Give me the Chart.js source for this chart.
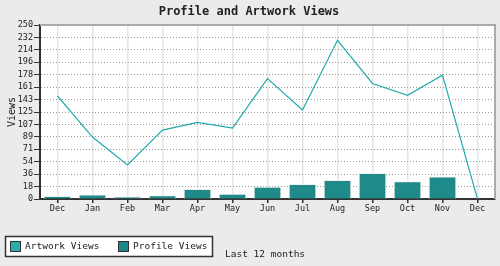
<!DOCTYPE html>
<html>
<head>
<meta charset="utf-8">
<script src="https://cdn.jsdelivr.net/npm/chart.js@4"></script>
<style>
  html, body { margin: 0; padding: 0; background: #ebebeb; }
</style>
</head>
<body>
<canvas id="views-chart" width="500" height="266"></canvas>
<script>
  const months = ["Dec", "Jan", "Feb", "Mar", "Apr", "May", "Jun", "Jul", "Aug", "Sep", "Oct", "Nov", "Dec"];
  const artworkViews = [148, 89, 49, 99, 110, 102, 173, 128, 228, 166, 149, 178, 0];
  const profileViews = [4, 6, 3, 5, 14, 7, 17, 21, 27, 37, 25, 32, 0];
  const yTickLabels = ["0", "18", "36", "54", "71", "89", "107", "125", "143", "161", "178", "196", "214", "232", "250"];
  const yMax = 250;

  const mono = "'DejaVu Sans Mono', 'Liberation Mono', monospace";

  // background, frame, title, legend and footer text
  const decor = {
    id: "decor",
    beforeDraw(chart) {
      const { ctx, chartArea: a } = chart;
      ctx.save();
      ctx.fillStyle = "#ebebeb";
      ctx.fillRect(0, 0, chart.width, chart.height);
      ctx.fillStyle = "#ffffff";
      ctx.fillRect(a.left, a.top, a.right - a.left, a.bottom - a.top);
      ctx.restore();
    },
    afterDraw(chart) {
      const { ctx, chartArea: a } = chart;
      ctx.save();
      ctx.strokeStyle = "#aaaaaa";
      ctx.lineWidth = 2;
      ctx.beginPath();
      ctx.moveTo(a.left, a.top);
      ctx.lineTo(a.right, a.top);
      ctx.lineTo(a.right, a.bottom);
      ctx.stroke();

      ctx.fillStyle = "#222";
      ctx.font = "bold 12px " + mono;
      ctx.textAlign = "center";
      ctx.textBaseline = "middle";
      ctx.fillText("Profile and Artwork Views", 249, 12);

      // legend
      ctx.fillStyle = "#fff";
      ctx.fillRect(5, 236, 208, 21);
      ctx.strokeStyle = "#333";
      ctx.lineWidth = 1.5;
      ctx.strokeRect(5.5, 236.5, 207, 20);
      ctx.font = "9.5px " + mono;
      ctx.textAlign = "left";
      let x = 10;
      chart.data.datasets.forEach(ds => {
        ctx.fillStyle = ds.legendColor;
        ctx.fillRect(x, 241, 11, 11);
        ctx.lineWidth = 1;
        ctx.strokeStyle = "#333";
        ctx.strokeRect(x + 0.5, 241.5, 10, 10);
        ctx.fillStyle = "#222";
        ctx.fillText(ds.label, x + 15, 247);
        x += 108;
      });
      ctx.fillText("Last 12 months", 225, 255);
      ctx.restore();
    }
  };

  const config = {
    type: "bar",
    data: {
      labels: months,
      datasets: [
        {
          type: "line",
          label: "Artwork Views",
          data: artworkViews,
          borderColor: "#22aaaa",
          legendColor: "#2aaeae",
          borderWidth: 1.2,
          pointRadius: 0,
          tension: 0,
          fill: false
        },
        {
          label: "Profile Views",
          data: profileViews,
          backgroundColor: "#1e8a8a",
          legendColor: "#1e8888",
          borderColor: "#f0f0f0",
          borderWidth: 1,
          barThickness: 27
        }
      ]
    },
    options: {
      responsive: false,
      animation: false,
      layout: { padding: { left: 0, top: 25, right: 5, bottom: 49 } },
      plugins: {
        legend: { display: false },
        tooltip: { enabled: false }
      },
      scales: {
        x: {
          afterFit: s => { s.height = 18; },
          grid: { offset: false, color: "#e6e6e6", lineWidth: 1.5, tickColor: "#333", tickLength: 4 },
          border: { color: "#333", width: 2 },
          ticks: { color: "#222", font: { family: mono, size: 8.5 }, padding: 1, maxRotation: 0, autoSkip: false }
        },
        y: {
          min: 0,
          max: yMax,
          afterFit: s => { s.width = 40; },
          afterBuildTicks: s => {
            s.ticks = yTickLabels.map((t, i) => ({ value: i * yMax / (yTickLabels.length - 1) }));
          },
          grid: { color: "#999", lineWidth: 1, tickColor: "#333", tickLength: 6 },
          border: { color: "#333", width: 2, dash: [1, 2] },
          ticks: {
            color: "#222",
            font: { family: mono, size: 8.5 },
            padding: 1,
            autoSkip: false,
            callback: (v, i) => yTickLabels[i]
          },
          title: { display: true, text: "Views", color: "#222", font: { family: mono, size: 10 }, padding: 6 }
        }
      }
    },
    plugins: [decor]
  };

  let ctx = document.getElementById("views-chart").getContext("2d");
  window.viewsChart = new Chart(ctx, config);
</script>
</body>
</html>
